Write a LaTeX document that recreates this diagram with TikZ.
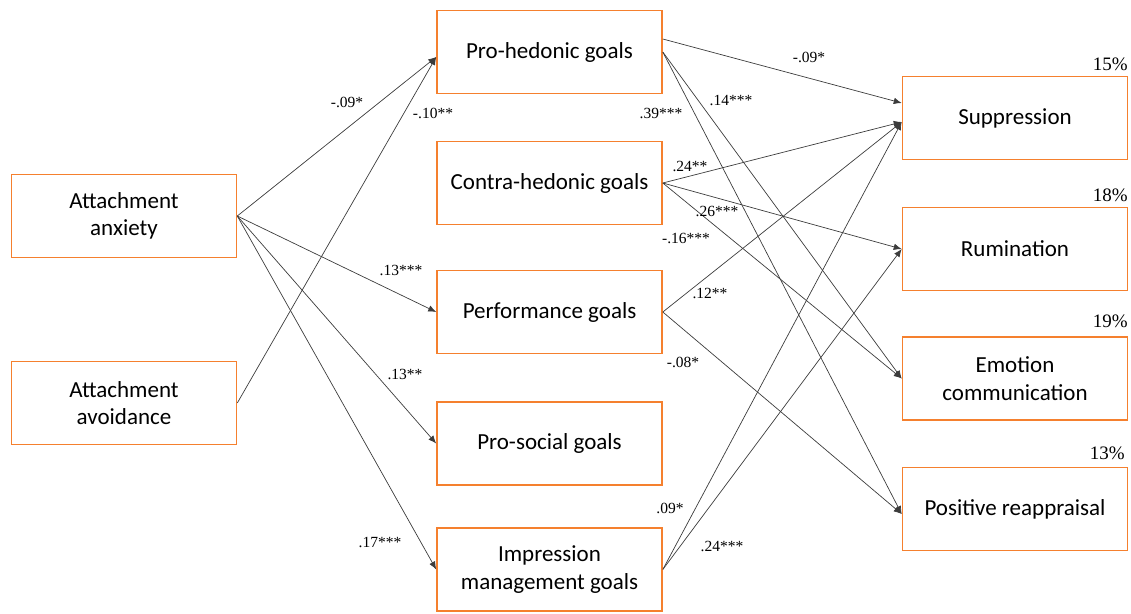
\documentclass[tikz,border=0pt]{standalone}
\usepackage{fontspec}
\setmainfont{Liberation Serif}
\newfontfamily\boxfont{Carlito}
\usetikzlibrary{arrows.meta}
\definecolor{boxorange}{RGB}{245,128,46}
\definecolor{linkgray}{RGB}{60,60,60}

\begin{document}
\begin{tikzpicture}[x=1pt, y=-1pt, >={Latex[length=8pt,width=6.5pt]},
    box/.style={draw=boxorange, line width=1.6pt, minimum width=225pt,
       minimum height=83pt, align=center, font=\boxfont\fontsize{23}{27.5}\selectfont},
    coef/.style={font=\fontsize{15.5}{18}\selectfont, inner sep=0pt},
    rsq/.style={font=\fontsize{19}{22}\selectfont, inner sep=0pt, anchor=base east},
    link/.style={->, draw=linkgray, line width=0.7pt}]
    \useasboundingbox (0,0) rectangle (1131,613);
    % predictors
    \node (anx) at (124,216) [box] {Attachment\\anxiety};
    \node (avo) at (124,403) [box] {Attachment\\avoidance};
    % goals
    \node (phg) at (549.5,52)    [box] {Pro-hedonic goals};
    \node (chg) at (549.5,183)   [box] {Contra-hedonic goals};
    \node (pfg) at (549.5,312)   [box] {Performance goals};
    \node (psg) at (549.5,443.5) [box] {Pro-social goals};
    \node (img) at (549.5,569.5) [box] {Impression\\management goals};
    % outcomes
    \node (sup) at (1015,118)   [box] {Suppression};
    \node (rum) at (1015,249)   [box] {Rumination};
    \node (emo) at (1015,378.5) [box] {Emotion\\communication};
    \node (pos) at (1015,509)   [box] {Positive reappraisal};
    \node (rsup) at (1128,70)  [rsq] {15\%};
    \node (rrum) at (1128,201) [rsq] {18\%};
    \node (remo) at (1128,327) [rsq] {19\%};
    \node (rpos) at (1125,459) [rsq] {13\%};
    % paths
    \draw[link] (anx.east) -- ([yshift=-5pt]phg.west);
    \draw[link] (avo.east) -- ([yshift=-5pt]phg.west);
    \draw[link] (anx.east) -- (pfg.west);
    \draw[link] (anx.east) -- (psg.west);
    \draw[link] (anx.east) -- (img.west);
    \draw[link] ([yshift=13pt]phg.east) -- ([yshift=15pt]sup.west);
    \draw[link] (phg.east) -- (emo.west);
    \draw[link] (phg.east) -- ([yshift=-5pt]pos.west);
    \draw[link] (chg.east) -- ([yshift=-4pt]sup.west);
    \draw[link] (chg.east) -- (rum.west);
    \draw[link] (chg.east) -- (emo.west);
    \draw[link] (pfg.east) -- ([yshift=-4pt]sup.west);
    \draw[link] (pfg.east) -- ([yshift=-5pt]pos.west);
    \draw[link] (img.east) -- ([yshift=-4pt]sup.west);
    \draw[link] (img.east) -- (rum.west);
    % coefficients
    \node (k1)  at (347,102) [coef] {-.09*};
    \node (k2)  at (433,113) [coef] {-.10**};
    \node (k3)  at (401,270) [coef] {.13***};
    \node (k4)  at (405,374) [coef] {.13**};
    \node (k5)  at (380,542) [coef] {.17***};
    \node (k6)  at (809,57)  [coef] {-.09*};
    \node (k7)  at (731,100) [coef] {.14***};
    \node (k8)  at (661,113) [coef] {.39***};
    \node (k9)  at (690,166) [coef] {.24**};
    \node (k10) at (717,211) [coef] {.26***};
    \node (k11) at (686,238) [coef] {-.16***};
    \node (k12) at (710,293) [coef] {.12**};
    \node (k13) at (683,362) [coef] {-.08*};
    \node (k14) at (670,508) [coef] {.09*};
    \node (k15) at (722,546) [coef] {.24***};
  \end{tikzpicture}
\end{document}
